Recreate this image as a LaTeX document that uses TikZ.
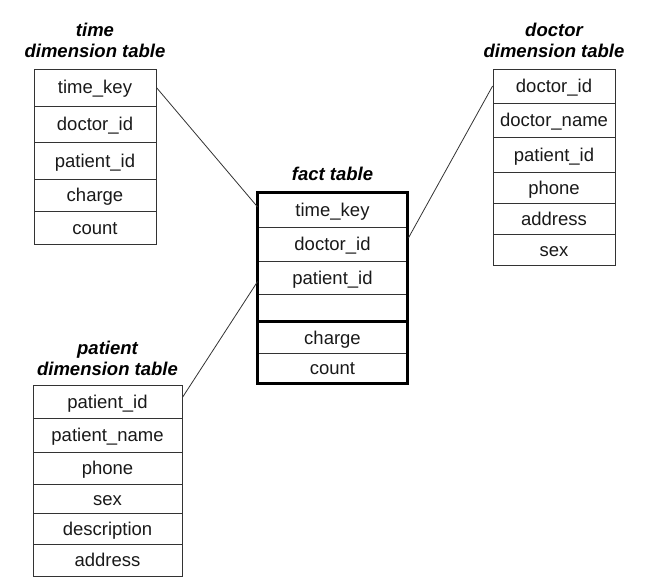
\documentclass[tikz,border=0pt]{standalone}
\usepackage{fontspec}
\setmainfont{Liberation Sans}
\usetikzlibrary{calc}
\tikzset{
  cell/.style={draw=black!80, line width=0.8pt, inner sep=0pt, text=black!90,
    text height=13pt, text depth=0pt,
    font=\fontsize{18.5}{21}\selectfont},
  ttl/.style={inner sep=0pt, align=center, text=black,
    font=\fontsize{18.5}{21}\selectfont\bfseries\itshape},
  conn/.style={draw=black!80, line width=0.8pt},
  thick box/.style={line width=3.6pt, draw=black}
}
\begin{document}
\begin{tikzpicture}[x=1pt,y=-1pt]
\useasboundingbox (0,0) rectangle (660,583);
% time dimension table
\node[cell, minimum width=122pt, minimum height=37pt] (t1) at (95,87.5) {time\_key};
\node[cell, minimum width=122pt, minimum height=36pt] (t2) at (95,124) {doctor\_id};
\node[cell, minimum width=122pt, minimum height=37pt] (t3) at (95,160.5) {patient\_id};
\node[cell, minimum width=122pt, minimum height=32pt] (t4) at (95,195) {charge};
\node[cell, minimum width=122pt, minimum height=33pt] (t5) at (95,227.5) {count};
\node[ttl, anchor=base] (tt) at (95,58) {time\\dimension table};
% doctor dimension table
\node[cell, minimum width=122pt, minimum height=34pt] (d1) at (554,86) {doctor\_id};
\node[cell, minimum width=122pt, minimum height=34pt] (d2) at (554,120) {doctor\_name};
\node[cell, minimum width=122pt, minimum height=35pt] (d3) at (554,154.5) {patient\_id};
\node[cell, minimum width=122pt, minimum height=31pt] (d4) at (554,187.5) {phone};
\node[cell, minimum width=122pt, minimum height=31pt] (d5) at (554,218.5) {address};
\node[cell, minimum width=122pt, minimum height=31pt] (d6) at (554,249.5) {sex};
\node[ttl, anchor=base] (dt) at (554,58) {doctor\\dimension table};
% patient dimension table
\node[cell, minimum width=149pt, minimum height=33pt] (p1) at (107.5,401.5) {patient\_id};
\node[cell, minimum width=149pt, minimum height=34pt] (p2) at (107.5,435) {patient\_name};
\node[cell, minimum width=149pt, minimum height=32pt] (p3) at (107.5,468) {phone};
\node[cell, minimum width=149pt, minimum height=29pt] (p4) at (107.5,498.5) {sex};
\node[cell, minimum width=149pt, minimum height=31pt] (p5) at (107.5,528.5) {description};
\node[cell, minimum width=149pt, minimum height=32pt] (p6) at (107.5,560) {address};
\node[ttl, anchor=base] (pt) at (107.5,375) {patient\\dimension table};
% fact table
\node[cell, minimum width=149pt, minimum height=34pt] (f1) at (332.5,210) {time\_key};
\node[cell, minimum width=149pt, minimum height=34pt] (f2) at (332.5,244) {doctor\_id};
\node[cell, minimum width=149pt, minimum height=33pt] (f3) at (332.5,277.5) {patient\_id};
\node[cell, minimum width=149pt, minimum height=28pt] (f4) at (332.5,308) {};
\node[cell, minimum width=149pt, minimum height=31pt] (f5) at (332.5,337.5) {charge};
\node[cell, minimum width=149pt, minimum height=30pt] (f6) at (332.5,368) {count};
\node[ttl, anchor=base] (ft) at (332.5,180) {fact table};
\draw[thick box] (f1.north west) rectangle (f6.south east);
\draw[thick box] (f5.north west) -- (f5.north east);
% connectors
\draw[conn] (t1.east) -- ($(f1.west)+(0,-3)$);
\draw[conn] ($(f2.east)+(1,-6)$) -- (d1.west);
\draw[conn] ($(p1.east)+(0,-4)$) -- ($(f3.west)+(0,4)$);
\end{tikzpicture}
\end{document}
